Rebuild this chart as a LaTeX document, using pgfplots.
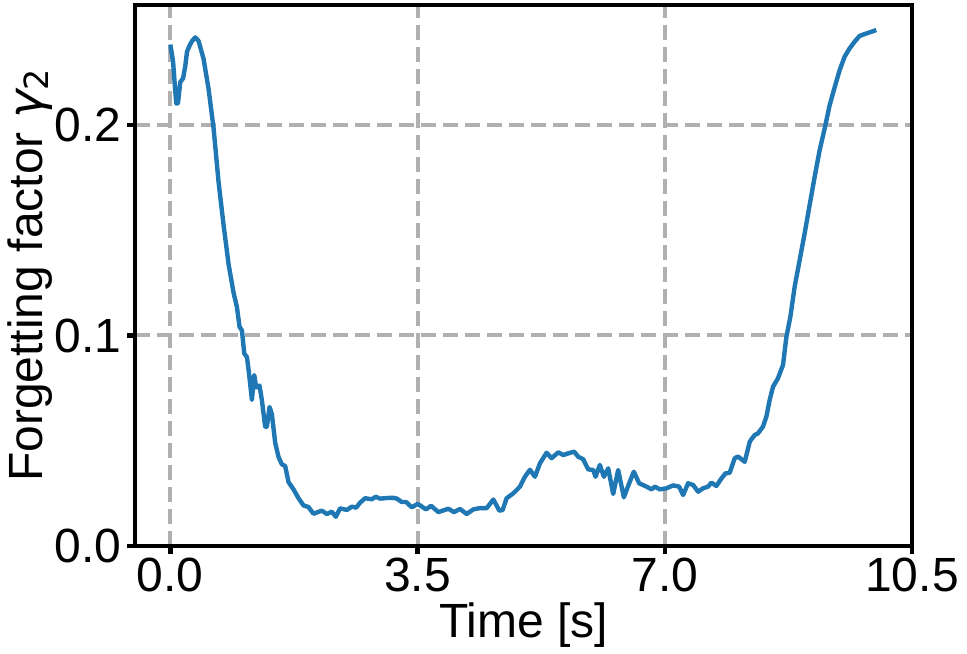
\documentclass[border=0pt]{standalone}
\usepackage{fontspec}
\setmainfont{Liberation Sans}
\newfontfamily\dejavu{DejaVu Sans}
\usepackage{pgfplots}
\pgfplotsset{compat=1.18}

\definecolor{mplblue}{HTML}{1F77B4}
\definecolor{gridgray}{HTML}{B0B0B0}

\pgfplotstableread{
t g
0.000 0.2382
0.038 0.2305
0.070 0.2160
0.085 0.2102
0.108 0.2102
0.141 0.2204
0.180 0.2221
0.212 0.2280
0.236 0.2348
0.270 0.2375
0.307 0.2399
0.354 0.2416
0.400 0.2399
0.471 0.2314
0.542 0.2170
0.613 0.1983
0.683 0.1729
0.754 0.1525
0.825 0.1338
0.896 0.1202
0.943 0.1135
0.980 0.1041
1.014 0.1024
1.047 0.0914
1.085 0.0897
1.117 0.0812
1.155 0.0694
1.188 0.0812
1.216 0.0753
1.263 0.0762
1.296 0.0694
1.343 0.0566
1.367 0.0566
1.405 0.0660
1.438 0.0626
1.485 0.0490
1.532 0.0423
1.579 0.0388
1.626 0.0380
1.673 0.0304
1.744 0.0269
1.815 0.0227
1.885 0.0193
1.956 0.0185
2.027 0.0153
2.080 0.0160
2.145 0.0168
2.216 0.0152
2.286 0.0163
2.343 0.0139
2.404 0.0179
2.499 0.0171
2.570 0.0187
2.630 0.0182
2.687 0.0206
2.758 0.0227
2.852 0.0222
2.909 0.0234
2.970 0.0225
3.064 0.0228
3.158 0.0229
3.206 0.0225
3.277 0.0209
3.338 0.0209
3.418 0.0184
3.503 0.0200
3.620 0.0174
3.691 0.0191
3.795 0.0161
3.936 0.0177
4.016 0.0161
4.101 0.0176
4.196 0.0152
4.290 0.0174
4.384 0.0180
4.479 0.0180
4.573 0.0221
4.658 0.0168
4.705 0.0171
4.761 0.0227
4.855 0.0250
4.950 0.0282
5.020 0.0329
5.091 0.0362
5.162 0.0329
5.233 0.0393
5.327 0.0443
5.398 0.0417
5.492 0.0445
5.562 0.0432
5.633 0.0440
5.718 0.0448
5.775 0.0424
5.845 0.0412
5.916 0.0364
5.987 0.0361
6.020 0.0329
6.081 0.0385
6.138 0.0329
6.199 0.0369
6.270 0.0247
6.340 0.0361
6.421 0.0231
6.496 0.0298
6.562 0.0353
6.637 0.0298
6.742 0.0282
6.812 0.0269
6.860 0.0282
6.930 0.0269
7.024 0.0274
7.118 0.0288
7.203 0.0282
7.260 0.0242
7.330 0.0298
7.401 0.0290
7.472 0.0258
7.542 0.0274
7.613 0.0282
7.660 0.0301
7.731 0.0285
7.800 0.0320
7.860 0.0345
7.919 0.0348
7.990 0.0417
8.037 0.0425
8.132 0.0400
8.203 0.0495
8.226 0.0507
8.273 0.0527
8.320 0.0535
8.390 0.0567
8.439 0.0615
8.485 0.0694
8.533 0.0757
8.603 0.0797
8.674 0.0860
8.722 0.0994
8.778 0.1089
8.839 0.1232
8.910 0.1359
8.980 0.1485
9.051 0.1620
9.122 0.1754
9.193 0.1881
9.264 0.1984
9.335 0.2095
9.405 0.2179
9.476 0.2261
9.547 0.2325
9.617 0.2364
9.688 0.2396
9.758 0.2423
9.829 0.2432
9.900 0.2440
9.994 0.2451
}\gammadata

\begin{document}
\begin{tikzpicture}
\begin{axis}[
  at={(0,0)}, anchor=south west,
  scale only axis,
  width=582.75pt, height=405.75pt,
  xmin=-0.5, xmax=10.5, ymin=0, ymax=0.257,
  xtick={0,3.5,7,10.5},
  xticklabels={0.0,3.5,7.0,10.5},
  ytick={0,0.1,0.2},
  yticklabels={0.0,0.1,0.2},
  xtick pos=bottom, ytick pos=left,
  tick align=outside,
  major tick length=6pt,
  every tick/.style={black, line width=3.3pt},
  axis line style={line width=3.3pt, black},
  grid=major,
  major grid style={gridgray, line width=3pt, dash pattern=on 11.25pt off 5.25pt},
  tick label style={font=\fontsize{36}{40}\selectfont},
  xticklabel style={inner sep=0pt, yshift=-3pt},
  yticklabel style={inner sep=0pt, xshift=-4pt},
  /pgf/number format/assume math mode=true,
  label style={font=\fontsize{36}{40}\selectfont},
  xlabel={Time [s]},
  xlabel style={at={(rel axis cs:0.5,0)}, anchor=base, inner sep=0pt, yshift=-68.25pt},
  ylabel={Forgetting factor {\dejavu\itshape γ}\raisebox{-5pt}{\fontsize{25}{25}\selectfont\dejavu 2}},
  ylabel style={at={(axis description cs:-0.1647,0.5)}, anchor=north, inner sep=0pt},
  clip=true,
]
\addplot[mplblue, line width=3.3pt, line join=round] table[x=t, y=g] {\gammadata};
\end{axis}
\pgfresetboundingbox
\path (-101.25pt,-80.25pt) rectangle (624pt,409.5pt);
\end{tikzpicture}
\end{document}
